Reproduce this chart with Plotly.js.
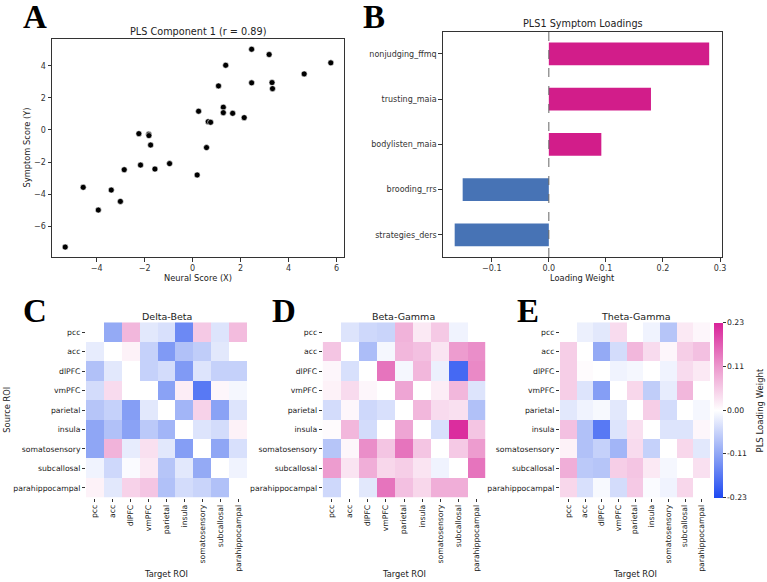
<!DOCTYPE html>
<html><head><meta charset="utf-8">
<script src="https://cdn.plot.ly/plotly-3.0.1.min.js"></script>
<style>html,body{margin:0;padding:0;background:#fff}#chart{width:767px;height:582px}</style>
</head><body><div id="chart"></div>
<script>
// ---- Panel A: PLS component scores ----
const neuralScore  = [-5.31,-4.56,-3.93,-3.39,-3.01,-2.85,-2.24,-2.17,-1.83,-1.82,-1.75,-1.57,-0.96,0.19,0.25,0.58,0.65,0.75,1.08,1.28,1.28,1.38,1.67,2.15,2.46,2.46,3.19,3.31,3.33,4.65,5.76];
const symptomScore = [-7.31,-3.58,-5.00,-3.75,-4.46,-2.48,-0.23,-2.19,-0.27,-0.35,-0.94,-2.44,-2.10,-2.81,1.17,-1.10,0.52,0.48,2.75,1.42,1.08,4.04,1.04,0.77,5.04,2.94,4.71,2.96,2.58,3.50,4.19];

// ---- Panel B: symptom loadings ----
const loadingLabels = ['nonjudging_ffmq','trusting_maia','bodylisten_maia','brooding_rrs','strategies_ders'];
const loadingValues = [0.281,0.179,0.092,-0.151,-0.165];
const referenceX = 0;

// ---- Panels C-E: ROI loading matrices (rows = source, cols = target) ----
const roiLabels = ['pcc','acc','dlPFC','vmPFC','parietal','insula','somatosensory','subcallosal','parahippocampal'];
const deltaBeta = [
  [0,-0.11,0.08,-0.03,-0.04,-0.15,0.06,-0.035,0.075],
  [-0.025,0,0.015,-0.06,-0.13,-0.08,-0.065,-0.03,0],
  [-0.08,-0.03,0,-0.06,-0.045,-0.13,-0.035,-0.06,-0.06],
  [-0.045,0.04,0,0,-0.12,0.02,-0.17,0.01,-0.01],
  [-0.075,-0.06,-0.125,-0.03,0,-0.095,0.05,-0.12,-0.035],
  [-0.115,-0.08,-0.12,-0.07,-0.095,0,-0.035,-0.045,0.015],
  [-0.115,0.085,-0.025,0.035,-0.03,-0.125,0,-0.115,-0.04],
  [-0.015,-0.05,-0.005,0.025,-0.075,-0.03,-0.11,0,-0.015],
  [0.015,-0.03,0.05,0.065,-0.08,-0.045,-0.055,-0.08,0]
];
const betaGamma = [
  [0,-0.035,-0.05,-0.055,0.085,0.025,0.06,-0.015,0],
  [0.065,0,-0.085,-0.01,0.08,0.07,0.03,0.11,0.125],
  [0.01,-0.04,0,0.15,-0.01,0.08,-0.02,-0.19,0.13],
  [0.015,0.04,0.01,0,0.1,0,0.02,0.08,-0.035],
  [-0.045,0.01,-0.05,-0.04,0,0.08,0.04,0.035,-0.08],
  [0.005,0.08,-0.045,0,0.1,0,-0.04,0.22,0.065],
  [-0.075,0.01,0.125,0.065,0.15,0.065,0,0.06,0.11],
  [0.11,0.03,0.09,0.045,0.055,0.03,-0.015,0,0.15],
  [-0.05,0,-0.03,0.15,0.07,0.045,0.09,0.09,0]
];
const thetaGamma = [
  [0,-0.02,-0.03,0.04,0,-0.015,-0.075,0.025,0.01],
  [0.055,0,-0.11,-0.045,0.08,0.04,0.01,0.055,0.07],
  [0.055,0.005,0,-0.015,-0.01,0,-0.015,0.04,0.025],
  [0.055,-0.035,-0.125,0,0.045,-0.065,-0.025,0.08,0],
  [-0.03,-0.015,-0.008,-0.03,0,0.055,-0.045,0,-0.01],
  [0.07,-0.08,-0.17,-0.035,0.035,0,-0.035,-0.035,0.01],
  [0.015,-0.08,-0.06,-0.095,0.04,-0.06,0,0.045,-0.03],
  [0.09,-0.07,-0.075,0.055,0.065,0.025,-0.01,0,0.035],
  [0.045,-0.04,-0.008,-0.045,0.06,-0.005,-0.015,0.045,0]
];
const colorLimit = 0.23;
const colorTicks = [-0.23,-0.115,0,0.115,0.23];
const colorTickText = ['-0.23','-0.11','0.00','0.11','0.23'];

const W = 767, H = 582;
const px = v => v / W;
const py = v => 1 - v / H;
const FONT = 'DejaVu Sans, sans-serif';
const TXT = '#222';

const traces = [
  {type:'scatter', mode:'markers', x:neuralScore, y:symptomScore, xaxis:'x', yaxis:'y',
   marker:{color:'#000', size:6, line:{color:'#fff', width:0.6}}, hoverinfo:'x+y'},
  {type:'bar', orientation:'h', x:loadingValues, y:loadingLabels, xaxis:'x2', yaxis:'y2', width:0.5,
   marker:{color:loadingValues.map(v => v >= 0 ? '#d21d8a' : '#4773b5'), line:{width:0}}},
  {type:'heatmap', z:deltaBeta, x:roiLabels, y:roiLabels, xaxis:'x3', yaxis:'y3', coloraxis:'coloraxis'},
  {type:'heatmap', z:betaGamma, x:roiLabels, y:roiLabels, xaxis:'x4', yaxis:'y4', coloraxis:'coloraxis'},
  {type:'heatmap', z:thetaGamma, x:roiLabels, y:roiLabels, xaxis:'x5', yaxis:'y5', coloraxis:'coloraxis'}
];

const frameAxis = {showline:true, mirror:true, linecolor:'#333', linewidth:1, ticks:'outside', ticklen:3.5,
  tickcolor:'#333', tickwidth:1, tickfont:{size:8, color:'#333', family:FONT}, showgrid:false, zeroline:false};
const hmX = {ticks:'outside', ticklen:3, tickcolor:'#333', tickangle:-90, tickfont:{size:7.7, color:TXT, family:FONT},
  showgrid:false, zeroline:false, showline:false};
const hmY = {ticks:'outside', ticklen:3, tickcolor:'#333', tickfont:{size:7.7, color:TXT, family:FONT},
  showgrid:false, zeroline:false, showline:false, autorange:'reversed'};
const hmDomY = [py(497.7), py(322.3)];

function ann(text, x, y, opts) {
  return Object.assign({text, x:px(x), y:py(y), xref:'paper', yref:'paper', showarrow:false,
    xanchor:'center', yanchor:'middle', font:{size:8.3, color:TXT, family:FONT}}, opts || {});
}
const letter = (t, x, y) => ann(t, x, y, {xanchor:'left', font:{size:33, color:'#000', family:'Liberation Serif, Times New Roman, serif', weight:'bold'}, text:'<b>'+t+'</b>'});

const layout = {
  width:W, height:H, paper_bgcolor:'#fff', plot_bgcolor:'#fff', showlegend:false,
  margin:{l:0, r:0, t:0, b:0, autoexpand:false},
  font:{family:FONT, color:TXT},
  xaxis: Object.assign({}, frameAxis, {domain:[px(52), px(344)], range:[-5.86, 6.31], tickvals:[-4,-2,0,2,4,6], anchor:'y'}),
  yaxis: Object.assign({}, frameAxis, {domain:[py(257), py(39.3)], range:[-7.93, 5.66], tickvals:[-6,-4,-2,0,2,4], anchor:'x'}),
  xaxis2: Object.assign({}, frameAxis, {domain:[px(442.7), px(722.3)], range:[-0.186, 0.304], tickvals:[-0.1,0,0.1,0.2,0.3], tickformat:'.1f', anchor:'y2'}),
  yaxis2: Object.assign({}, frameAxis, {domain:[py(257), py(31.7)], range:[4.49, -0.49], type:'category', anchor:'x2', ticks:'outside'}),
  xaxis3: Object.assign({}, hmX, {domain:[px(86), px(247.3)], anchor:'y3'}),
  yaxis3: Object.assign({}, hmY, {domain:hmDomY, anchor:'x3'}),
  xaxis4: Object.assign({}, hmX, {domain:[px(322.7), px(485.3)], anchor:'y4'}),
  yaxis4: Object.assign({}, hmY, {domain:hmDomY, anchor:'x4'}),
  xaxis5: Object.assign({}, hmX, {domain:[px(560), px(710)], anchor:'y5'}),
  yaxis5: Object.assign({}, hmY, {domain:hmDomY, anchor:'x5'}),
  coloraxis:{cmin:-colorLimit, cmax:colorLimit,
    colorscale:[[0,'#1d48f2'],[0.25,'#8fa6f5'],[0.5,'#ffffff'],[0.75,'#ec98cd'],[1,'#d9239a']],
    colorbar:{x:px(714.3), xanchor:'left', xpad:0, ypad:0, thickness:9, thicknessmode:'pixels',
      len:(497.7-322.3)/H, lenmode:'fraction', y:py(410), yanchor:'middle', outlinewidth:0,
      tickvals:colorTicks, ticktext:colorTickText, ticks:'outside', ticklen:3, tickcolor:'#333',
      tickfont:{size:7.7, color:TXT, family:FONT}}},
  shapes:[{type:'line', xref:'x2', yref:'y2 domain', x0:referenceX, x1:referenceX, y0:0, y1:1,
    line:{color:'#666', width:1, dash:'dash'}}],
  annotations:[
    letter('A', 21, 17), letter('B', 361, 17),
    letter('C', 21, 311), letter('D', 270, 311), letter('E', 515, 311),
    ann('PLS Component 1 (r = 0.89)', 198, 31.7, {font:{size:9.7, color:TXT, family:FONT}}),
    ann('PLS1 Symptom Loadings', 582.5, 23.3, {font:{size:9.7, color:TXT, family:FONT}}),
    ann('Delta-Beta', 166.5, 316, {font:{size:9.5, color:TXT, family:FONT}}),
    ann('Beta-Gamma', 403, 316, {font:{size:9.5, color:TXT, family:FONT}}),
    ann('Theta-Gamma', 636, 316, {font:{size:9.5, color:TXT, family:FONT}}),
    ann('Neural Score (X)', 198, 278),
    ann('Symptom Score (Y)', 26.5, 148, {textangle:-90}),
    ann('Loading Weight', 582.5, 278),
    ann('Target ROI', 166, 574.3),
    ann('Target ROI', 403.5, 574.3),
    ann('Target ROI', 634.5, 574.3),
    ann('Source ROI', 6.7, 410, {textangle:-90}),
    ann('PLS Loading Weight', 759, 410.5, {textangle:-90, font:{size:8.5, color:TXT, family:FONT}})
  ]
};

Plotly.newPlot('chart', traces, layout, {displayModeBar:false, responsive:false, staticPlot:true});
</script></body></html>
